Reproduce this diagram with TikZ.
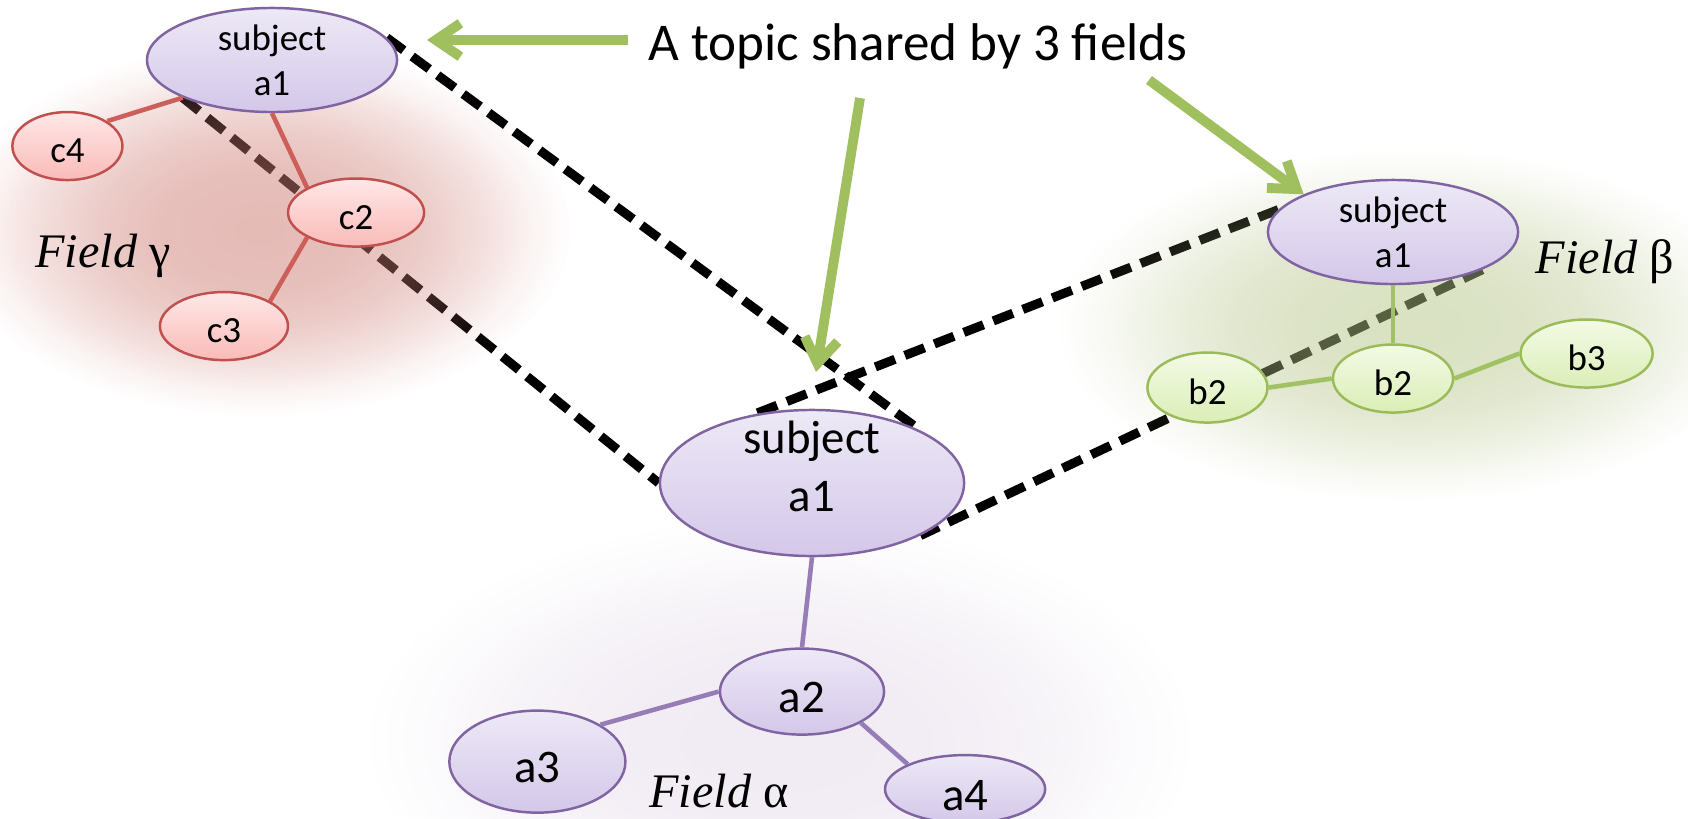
\documentclass[tikz,border=0pt]{standalone}
\usepackage{fontspec}
\setmainfont{Carlito}
\newfontfamily\fieldfont{Liberation Serif}
\usepackage{tikz}
\usetikzlibrary{positioning}
\usetikzlibrary{shapes.geometric}
\usetikzlibrary{arrows.meta}
\usetikzlibrary{fadings}
\usetikzlibrary{backgrounds}
\definecolor{Purple}{RGB}{128,100,162}
\definecolor{PurpleTop}{RGB}{237,233,246}
\definecolor{PurpleBot}{RGB}{212,199,233}
\definecolor{PurpleEdge}{RGB}{150,125,182}
\definecolor{Red}{RGB}{192,80,77}
\definecolor{RedTop}{RGB}{255,231,231}
\definecolor{RedBot}{RGB}{249,187,184}
\definecolor{RedEdge}{RGB}{205,95,90}
\definecolor{Green}{RGB}{155,187,89}
\definecolor{GreenTop}{RGB}{243,250,230}
\definecolor{GreenBot}{RGB}{219,238,182}
\definecolor{GreenEdge}{RGB}{160,194,100}
\definecolor{Pointer}{RGB}{160,192,95}
\definecolor{RedHaze}{RGB}{206,124,115}
\definecolor{GreenHaze}{RGB}{181,197,135}
\definecolor{PurpleHaze}{RGB}{212,195,220}
% soft blob used behind each field
\pgfdeclareradialshading{softglowshade}{\pgfpointorigin}{color(0bp)=(white); color(8bp)=(white!93!black); color(13bp)=(white!75!black); color(18bp)=(white!45!black); color(22bp)=(white!15!black); color(25bp)=(black); color(50bp)=(black)}
\pgfdeclarefading{softglow}{\pgfuseshading{softglowshade}}

\begin{document}
\begin{tikzpicture}[x=0.01cm, y=-0.01cm,
    smalltext/.style={font=\fontsize{10.5}{12.8}\selectfont},
    bigtext/.style={font=\fontsize{13.3}{16.3}\selectfont},
    anode/.style={ellipse, draw=Purple, line width=0.7pt, top color=PurpleTop, bottom color=PurpleBot, inner sep=0pt, align=center},
    cnode/.style={ellipse, draw=Red, line width=0.7pt, top color=RedTop, bottom color=RedBot, inner sep=0pt, smalltext, text height=0.33cm, text depth=0pt, minimum height=0.68cm},
    bnode/.style={ellipse, draw=Green, line width=0.7pt, top color=GreenTop, bottom color=GreenBot, inner sep=0pt, smalltext, text height=0.33cm, text depth=0pt, minimum height=0.68cm},
    aedge/.style={draw=PurpleEdge, line width=1.3pt},
    cedge/.style={draw=RedEdge, line width=1.3pt},
    bedge/.style={draw=GreenEdge, line width=1.3pt},
    proj/.style={line width=2.6pt, dash pattern=on 6pt off 3pt},
    pointer/.style={draw=Pointer, line width=2.8pt, -{Straight Barb[length=7pt,width=9.5pt]}},
    field/.style={font=\fieldfont\fontsize{13.7}{16}\selectfont, anchor=base, inner sep=0pt}]
    \useasboundingbox (0,0) rectangle (1688,818);

    % the three copies of the shared topic
    \node[anode, smalltext, minimum width=2.5cm, minimum height=1.04cm] (ga1) at (272,60) {subject\\a1};
    \node[anode, smalltext, minimum width=2.5cm, minimum height=1.04cm] (ra1) at (1393,232) {subject\\a1};
    \node[anode, minimum width=3.04cm, minimum height=1.46cm] (ca1) at (812,483) {};
    \node[bigtext, align=center, inner sep=0pt] (ca1 text) at ([yshift=0.165cm]ca1.center) {subject\\a1};

    % field alpha
    \node[anode, bigtext, text height=0.42cm, text depth=0pt, minimum width=1.64cm, minimum height=0.86cm, below=0.9cm of ca1, xshift=-0.1cm] (a2) {a2};
    \node[anode, bigtext, text height=0.42cm, text depth=0pt, minimum width=1.76cm, minimum height=1.02cm, left=0.92cm of a2, yshift=-0.7cm] (a3) {a3};
    \node[anode, bigtext, text height=0.42cm, text depth=0pt, minimum width=1.6cm, minimum height=0.68cm, below=0.18cm of a2, xshift=1.63cm] (a4) {a4};

    % field gamma
    \node[cnode, minimum width=1.36cm, below=0.64cm of ga1, xshift=0.84cm] (c2) {c2};
    \node[cnode, minimum width=1.1cm, left=0.22cm of ga1, yshift=-0.86cm] (c4) {c4};
    \node[cnode, minimum width=1.28cm, below=0.43cm of c2, xshift=-1.32cm] (c3) {c3};

    % field beta
    \node[bnode, minimum width=1.2cm, below=0.58cm of ra1] (b2m) {b2};
    \node[bnode, minimum width=1.2cm, minimum height=0.7cm, left=0.63cm of b2m, yshift=-0.09cm] (b2l) {b2};
    \node[bnode, minimum width=1.32cm, right=0.65cm of b2m, yshift=0.25cm] (b3) {b3};

    % edges
    \draw[cedge] (c4.north east) -- (ga1.south west);
    \draw[cedge] (c2.north west) -- (ga1.south);
    \draw[cedge] (c2.south west) -- (c3.north east);
    \draw[bedge] (ra1.south) -- (b2m.north);
    \draw[bedge] (b2l.east) -- (b2m.west);
    \draw[bedge] (b2m.east) -- (b3.west);
    \draw[aedge] (ca1.south) -- (a2.north);
    \draw[aedge] (a2.west) -- (a3.north east);
    \draw[aedge] (a2.south east) -- (a4.north west);

    % dashed projections and the field blobs over them
    \begin{pgfonlayer}{background}
        \fill[white] (0,0) rectangle (1688,818);
        \draw[proj] (ga1.11) -- (ca1.north east);
        \draw[proj] (ga1.south west) -- (ca1.west);
        \draw[proj] (ra1.169) -- (ca1.130);
        \draw[proj] (ra1.south east) -- (ca1.south east);
        \fill[RedHaze, path fading=softglow, fill opacity=0.52] (260,230) ellipse (3.1cm and 1.85cm);
        \fill[GreenHaze, path fading=softglow, fill opacity=0.5] (1410,325) ellipse (3.5cm and 1.75cm);
        \fill[PurpleHaze, path fading=softglow, fill opacity=0.32] (780,740) ellipse (4.1cm and 2.2cm);
    \end{pgfonlayer}

    % labels
    \node[field] (fg) at (103,267) {\textit{Field} γ};
    \node[field] (fb) at (1605,273) {\textit{Field} β};
    \node[field] (fa) at (719,807) {\textit{Field} α};

    % caption and its arrows
    \node[anchor=base, inner xsep=0.2cm, inner ysep=0pt, font=\fontsize{15.1}{18}\selectfont] (title) at (918,60) {A topic shared by 3 fields};
    \coordinate (tip1) at (427,40);
    \coordinate (tail2) at (860,98);
    \coordinate (tip2) at (816,372);
    \coordinate (tail3) at (1149,80);
    \draw[pointer] (title.west |- tip1) -- (tip1);
    \draw[pointer] (tail2) -- (tip2);
    \draw[pointer] (tail3) -- (ra1.north west);
\end{tikzpicture}
\end{document}
